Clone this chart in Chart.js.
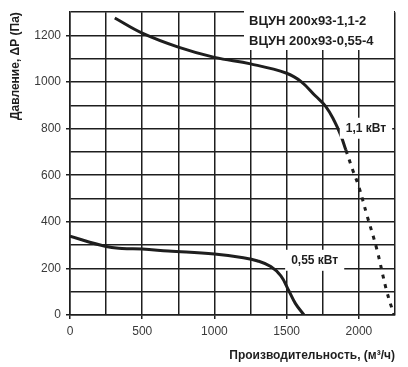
<!DOCTYPE html>
<html>
<head>
<meta charset="utf-8">
<script src="https://cdn.jsdelivr.net/npm/chart.js@4"></script>
<style>
    html, body { margin: 0; padding: 0; background: #fff; }
    #wrap { width: 408px; height: 367px; }
</style>
</head>
<body>
<div id="wrap"><canvas id="chart" width="408" height="367"></canvas></div>
<script>
// ============================================
// Data
// ============================================

// 1,1 kW fan, solid part
const flow11 = [310, 500, 750, 1000, 1250, 1500, 1600, 1700, 1770, 1830, 1875, 1910];
const pres11 = [1275, 1210, 1150, 1106, 1078, 1038, 1002, 940, 896, 833, 771, 708];

// 1,1 kW fan, dashed tail
const flow11Tail = [1910, 1956, 2000, 2055, 2123, 2192, 2243];
const pres11Tail = [708, 625, 550, 430, 285, 104, 0];

// 0,55 kW fan
const flow055 = [0, 250, 360, 500, 680, 1000, 1200, 1300, 1390, 1460, 1515, 1560, 1620];
const pres055 = [338, 294, 286, 283, 275, 262, 246, 232, 208, 168, 104, 50, 0];

const modelNames = ['ВЦУН 200х93-1,1-2', 'ВЦУН 200х93-0,55-4'];
const powerLabels = ['1,1 кВт', '0,55 кВт'];
const powerLabelAt = [[2049, 804], [1694, 237]];

const xTicksShown = [0, 500, 1000, 1500, 2000];
const yTicksShown = [0, 200, 400, 600, 800, 1000, 1200];

const ink = '#1e1e1e';
const fontFamily = '"Liberation Sans", Arial, sans-serif';
const toPoints = (xs, ys) => xs.map((x, i) => ({ x: x, y: ys[i] }));

// ============================================
// Text boxes drawn over the grid
// ============================================

const labelsPlugin = {
    id: 'labels',
    afterDatasetsDraw(chart) {
        const ctx = chart.ctx;
        const xs = chart.scales.x;
        const ys = chart.scales.y;
        ctx.save();

        // model names box, top right
        ctx.fillStyle = '#fff';
        ctx.fillRect(244, 6, chart.chartArea.right - 245, 44);
        ctx.fillStyle = ink;
        ctx.font = 'bold 13px ' + fontFamily;
        ctx.textAlign = 'left';
        ctx.textBaseline = 'middle';
        ctx.fillText(modelNames[0], 249, 21);
        ctx.fillText(modelNames[1], 249, 41);

        // power labels
        ctx.font = 'bold 12px ' + fontFamily;
        ctx.textAlign = 'center';
        powerLabels.forEach((text, i) => {
            const px = xs.getPixelForValue(powerLabelAt[i][0]);
            const py = ys.getPixelForValue(powerLabelAt[i][1]);
            const w = ctx.measureText(text).width + 12;
            ctx.fillStyle = '#fff';
            ctx.fillRect(px - w / 2, py - 10, w, 21);
            ctx.fillStyle = ink;
            ctx.fillText(text, px, py + 1);
        });

        ctx.restore();
    }
};

const lineStyle = {
    borderColor: ink,
    borderWidth: 3,
    pointRadius: 0,
    tension: 0.4,
    fill: false
};

new Chart(document.getElementById('chart'), {
    type: 'line',
    data: {
        datasets: [
            Object.assign({ data: toPoints(flow11, pres11) }, lineStyle),
            Object.assign({ data: toPoints(flow11Tail, pres11Tail), borderDash: [4, 6] }, lineStyle),
            Object.assign({ data: toPoints(flow055, pres055) }, lineStyle)
        ]
    },
    options: {
        responsive: false,
        animation: false,
        layout: { padding: { top: 4, right: 13, left: 0, bottom: 0 } },
        plugins: {
            legend: { display: false },
            tooltip: { enabled: false }
        },
        scales: {
            x: {
                type: 'linear',
                min: 0,
                max: 2250,
                afterFit(scale) { scale.height = 52; },
                border: { color: ink, width: 1.5 },
                grid: {
                    color: ink,
                    lineWidth: 1.5,
                    tickLength: 4,
                    tickColor: c => xTicksShown.includes(c.tick.value) ? ink : 'rgba(0,0,0,0)'
                },
                ticks: {
                    stepSize: 250,
                    maxRotation: 0,
                    autoSkip: false,
                    padding: 5,
                    color: '#3a3a3a',
                    font: { family: fontFamily, size: 12 },
                    callback: v => xTicksShown.includes(v) ? String(v) : ''
                },
                title: {
                    display: true,
                    text: 'Производительность, (м³/ч)',
                    align: 'end',
                    color: ink,
                    padding: { top: 6 },
                    font: { family: fontFamily, size: 12, weight: 'bold' }
                }
            },
            y: {
                type: 'linear',
                min: 0,
                max: 1300,
                afterFit(scale) { scale.width = 70; },
                border: { color: ink, width: 1.5 },
                grid: {
                    color: ink,
                    lineWidth: 1.5,
                    tickLength: 4,
                    tickColor: c => yTicksShown.includes(c.tick.value) ? ink : 'rgba(0,0,0,0)'
                },
                ticks: {
                    stepSize: 100,
                    autoSkip: false,
                    padding: 5,
                    color: '#3a3a3a',
                    font: { family: fontFamily, size: 12 },
                    callback: v => yTicksShown.includes(v) ? String(v) : ''
                },
                title: {
                    display: true,
                    text: 'Давление, ΔР (Па)',
                    align: 'end',
                    color: ink,
                    padding: { top: 8, bottom: 0 },
                    font: { family: fontFamily, size: 12, weight: 'bold' }
                }
            }
        }
    },
    plugins: [labelsPlugin]
});
</script>
</body>
</html>
